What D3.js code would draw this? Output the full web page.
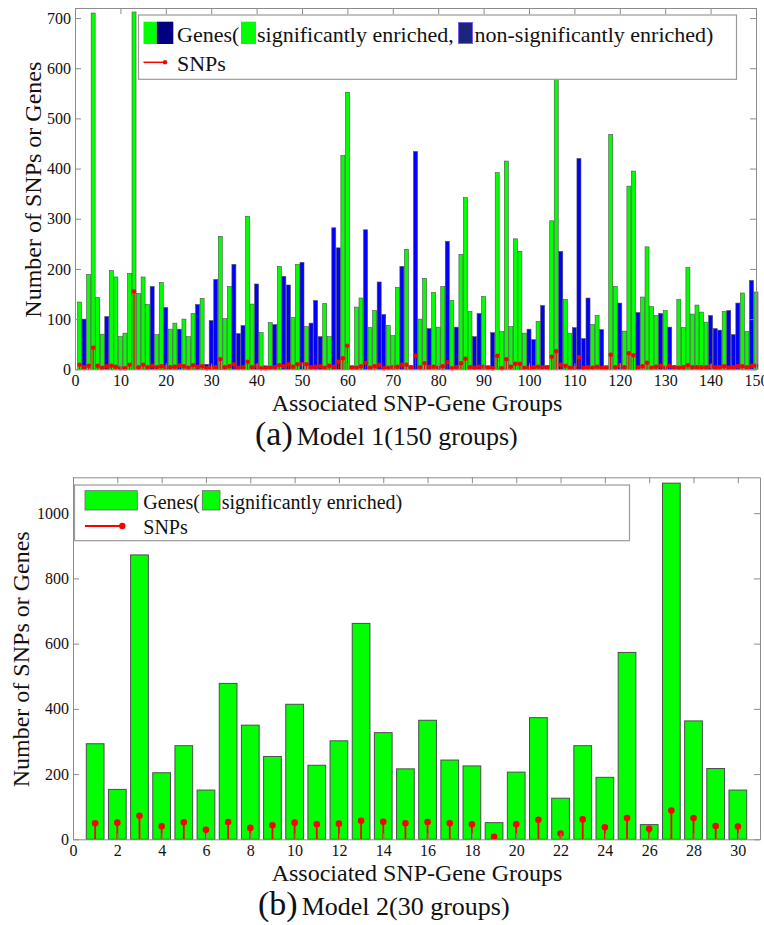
<!DOCTYPE html>
<html>
<head>
<meta charset="utf-8">
<script src="https://cdn.jsdelivr.net/npm/d3@7"></script>
<style>
body{margin:0;background:#fff;}
svg text{font-family:"Liberation Serif","Times New Roman","DejaVu Serif",serif !important;fill:#111;}
.frame path,.frame line{stroke:#8c8c8c;stroke-width:1;}
</style>
</head>
<body>
<div id="container"></div>
<script>
// Data ---------- ---------- ----------
// Model 1: 150 groups
let groupsA = d3.range(1, 151);
let genesA = [
  134,100,189,710,143,70,105,197,184,65,
  72,191,712,151,184,129,165,69,173,123,
  80,92,80,100,65,111,129,141,10,97,
  179,265,101,165,209,71,87,305,130,170,
  73,7,93,89,205,185,168,103,209,213,
  85,92,137,65,131,65,282,242,426,552,
  7,124,142,278,83,117,174,109,87,67,
  163,205,239,7,434,100,181,81,153,84,
  165,255,137,84,229,342,115,65,111,145,
  7,73,392,75,415,85,260,235,72,80,
  59,95,127,7,296,580,235,139,71,83,
  420,61,142,89,107,79,7,468,165,132,
  76,365,395,113,144,244,125,107,111,117,
  84,7,139,83,203,110,128,114,94,107,
  81,78,115,117,69,132,152,75,177,154];
// 1 = significantly enriched, 0 = non-significantly enriched
let enrichedA = [
  1,0,1,1,1,1,0,1,1,1,
  1,1,1,1,1,1,0,1,1,0,
  1,1,0,1,1,1,0,1,0,0,
  0,1,1,1,0,0,0,1,1,0,
  1,0,1,0,1,0,0,1,1,0,
  1,0,0,0,1,1,0,0,1,1,
  0,1,1,0,1,1,0,0,1,1,
  1,0,1,0,0,1,1,0,1,1,
  1,0,1,0,1,1,1,0,0,1,
  0,0,1,1,1,1,1,1,1,0,
  0,1,0,0,1,1,0,1,1,0,
  0,0,0,1,1,0,0,1,1,0,
  1,1,1,0,1,1,1,1,0,1,
  0,0,1,1,1,1,1,1,1,0,
  0,0,1,0,0,0,1,1,0,1];
let snpsA = [
  9,4,7,43,7,3,6,7,5,2,
  2,9,155,4,9,4,7,4,6,4,
  4,5,8,6,3,8,5,6,2,3,
  4,20,4,6,10,3,4,15,4,7,
  2,2,3,4,8,6,10,5,10,10,
  10,4,5,6,3,7,5,15,22,47,
  3,3,6,13,3,6,9,2,3,4,
  5,9,9,4,27,4,12,5,5,3,
  6,14,2,4,12,21,4,3,5,5,
  3,2,27,2,20,5,11,11,3,3,
  4,5,4,4,25,36,9,7,3,3,
  24,3,4,3,5,3,3,29,4,8,
  4,32,28,4,6,13,3,5,7,3,
  7,4,3,4,8,4,4,4,4,6,
  4,4,6,3,4,6,6,4,7,7];

// Model 2: 30 groups
let groupsB = d3.range(1, 31);
let genesB = [293,153,872,204,287,151,478,350,254,414,
              227,302,662,327,216,365,243,225,51,206,
              373,126,287,190,573,45,1092,363,217,151];
let snpsB  = [49,51,72,40,52,29,53,35,43,51,
              46,48,57,54,49,53,49,46,8,46,
              60,18,61,37,65,32,88,65,41,39];

// Tick labels
let xTicksA = [0,10,20,30,40,50,60,70,80,90,100,110,120,130,140,150];
let yTicksA = [0,100,200,300,400,500,600,700];
let xTicksB = [0,2,4,6,8,10,12,14,16,18,20,22,24,26,28,30];
let yTicksB = [0,200,400,600,800,1000];

// Text
let yTitle = "Number of SNPs or Genes";
let xTitle = "Associated SNP-Gene Groups";

// Colours / font ---------- ---------- ----------
let green = "#00ff00", blue = "#0000ff", red = "#ff0000";
let serif = "'Liberation Serif', 'Times New Roman', 'DejaVu Serif', serif";

//Initialize ---------- ---------- ----------
let svg = d3.select("#container").append("svg").attr("width", 764).attr("height", 925)
    .style("font-family", serif);

function label(g, x, y, size, txt)
{
    return g.append("text").attr("x", x).attr("y", y)
        .style("font-family", serif).style("font-size", size + "px").text(txt);
}

function panel(p)
{
    let x = d3.scaleLinear().domain(p.xDom).range([p.left, p.right]);
    let y = d3.scaleLinear().domain(p.yDom).range([p.bottom, p.top]);
    let g = svg.append("g");
    let bw = (x(1) - x(0)) * p.barFrac;

    // Gene bars
    g.selectAll(".bar").data(p.groups).enter().append("rect")
        .attr("class","bar")
        .attr("x", (d,i)=> x(d) - bw/2).attr("y", (d,i)=> y(p.genes[i]))
        .attr("width", bw).attr("height", (d,i)=> y(0) - y(p.genes[i]))
        .attr("fill", (d,i)=> p.flags[i] ? green : blue)
        .attr("stroke", "#4d4d4d").attr("stroke-width", p.barStroke);

    // SNP stems
    g.selectAll(".stem").data(p.groups).enter().append("line")
        .attr("x1", d=> x(d)).attr("x2", d=> x(d))
        .attr("y1", y(0)).attr("y2", (d,i)=> y(p.snps[i]))
        .attr("stroke", red).attr("stroke-width", p.stemW);
    g.selectAll(".dot").data(p.groups).enter().append("circle")
        .attr("cx", d=> x(d)).attr("cy", (d,i)=> y(p.snps[i]))
        .attr("r", p.dotR).attr("fill", red);

    // Frame and axes
    let fmt = d3.format("d");
    g.append("g").attr("class","frame").attr("transform","translate(0,"+p.bottom+")")
        .call(d3.axisBottom(x).tickValues(p.xTicks).tickFormat(fmt).tickSizeInner(-6).tickSizeOuter(0).tickPadding(5));
    g.append("g").attr("class","frame").attr("transform","translate(0,"+p.top+")")
        .call(d3.axisTop(x).tickValues(p.xTicks).tickSizeInner(-6).tickSizeOuter(0).tickFormat(""));
    g.append("g").attr("class","frame").attr("transform","translate("+p.left+",0)")
        .call(d3.axisLeft(y).tickValues(p.yTicks).tickFormat(fmt).tickSizeInner(-6).tickSizeOuter(0).tickPadding(4));
    g.append("g").attr("class","frame").attr("transform","translate("+p.right+",0)")
        .call(d3.axisRight(y).tickValues(p.yTicks).tickSizeInner(-6).tickSizeOuter(0).tickFormat(""));
    g.selectAll(".frame").attr("font-family", serif).attr("font-size", 16);
    g.selectAll(".frame text").style("font-family", serif).style("font-size","16px").attr("fill","#111");

    // Titles
    label(g, 0, 0, 24, yTitle)
        .attr("transform","translate("+p.yLabX+","+((p.top+p.bottom)/2+1)+") rotate(-90)")
        .attr("text-anchor","middle");
    label(g, 417, p.bottom + 42, 24, xTitle).attr("text-anchor","middle");
    let cap = g.append("text").attr("x", p.capX).attr("y", p.bottom + 75.5).style("font-family", serif);
    cap.append("tspan").style("font-size","34px").text(p.capTag);
    cap.append("tspan").attr("dx", 4).style("font-size","26px").text(p.capText);
    return g;
}

// Panel (a) ---------- ---------- ----------
let ga = panel({groups:groupsA, genes:genesA, flags:enrichedA, snps:snpsA,
    xDom:[0,150], yDom:[0,720], left:75, right:756, top:8, bottom:369.3,
    xTicks:xTicksA, yTicks:yTicksA, barFrac:0.88, barStroke:0.6, stemW:1.2, dotR:2.3,
    yLabX:41, capX:255, capTag:"(a)", capText:"Model 1(150 groups)"});

// Legend (a)
ga.append("rect").attr("x",138.5).attr("y",15).attr("width",598).attr("height",64.3)
    .attr("fill","#fff").attr("stroke","#9a9a9a").attr("stroke-width",1.2);
ga.append("rect").attr("x",143.5).attr("y",21.7).attr("width",13.3).attr("height",22.3).attr("fill",green);
ga.append("rect").attr("x",156.8).attr("y",21.7).attr("width",16.5).attr("height",22.3).attr("fill","#000080");
label(ga, 177, 41.5, 22, "Genes(");
ga.append("rect").attr("x",241).attr("y",21.7).attr("width",15).attr("height",22.3).attr("fill",green);
label(ga, 257, 41.5, 22, "significantly enriched,");
ga.append("rect").attr("x",458.5).attr("y",22.5).attr("width",14).attr("height",21)
    .attr("fill","#1a2580").attr("stroke","#7c5ce0").attr("stroke-width",1);
label(ga, 474.5, 41.5, 22, "non-significantly enriched)");
ga.append("line").attr("x1",143.5).attr("x2",165.5).attr("y1",62.3).attr("y2",62.3)
    .attr("stroke",red).attr("stroke-width",1.5);
ga.append("circle").attr("cx",165).attr("cy",62.3).attr("r",2.2).attr("fill",red);
label(ga, 177, 71, 22, "SNPs");

// Panel (b) ---------- ---------- ----------
let gb = panel({groups:groupsB, genes:genesB, flags:genesB.map(()=>1), snps:snpsB,
    xDom:[0,31], yDom:[0,1110], left:73, right:760, top:477.3, bottom:839.3,
    xTicks:xTicksB, yTicks:yTicksB, barFrac:0.8, barStroke:1, stemW:1.8, dotR:3.3,
    yLabX:29, capX:258, capTag:"(b)", capText:"Model 2(30 groups)"});

// Legend (b)
gb.append("rect").attr("x",74.5).attr("y",485).attr("width",555).attr("height",55.7)
    .attr("fill","#fff").attr("stroke","#9a9a9a").attr("stroke-width",1.2);
gb.append("rect").attr("x",85).attr("y",490.7).attr("width",52.3).attr("height",19.3)
    .attr("fill",green).attr("stroke","#666").attr("stroke-width",0.8);
label(gb, 143.3, 509, 20, "Genes(");
gb.append("rect").attr("x",202.3).attr("y",490.7).attr("width",17.7).attr("height",19.3)
    .attr("fill",green).attr("stroke","#666").attr("stroke-width",0.8);
label(gb, 221.7, 509, 20, "significantly enriched)");
gb.append("line").attr("x1",85).attr("x2",122.3).attr("y1",526).attr("y2",526)
    .attr("stroke",red).attr("stroke-width",2);
gb.append("circle").attr("cx",122.3).attr("cy",526).attr("r",3.2).attr("fill",red);
label(gb, 143.3, 534, 20, "SNPs");
</script>
</body>
</html>
